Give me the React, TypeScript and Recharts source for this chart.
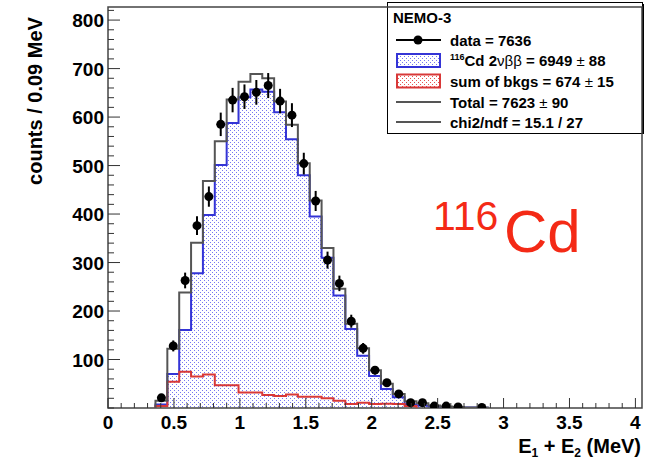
import React from 'react';
import { ComposedChart, Area, Line, Scatter, ErrorBar, XAxis, YAxis, ReferenceArea } from 'recharts';

// ---- histogram bins (lower edges, MeV), width 0.09 MeV ----
const binLowEdges = [0.36, 0.45, 0.54, 0.63, 0.72, 0.81, 0.9, 0.99, 1.08, 1.17, 1.26, 1.35, 1.44, 1.53, 1.62, 1.71, 1.8, 1.89, 1.98, 2.07, 2.16, 2.25, 2.34, 2.43, 2.52, 2.61, 2.7, 2.79, 2.88];
const cdCounts = [7, 70, 161, 278, 398, 501, 588, 641, 657, 652, 610, 554, 480, 395, 310, 232, 163, 108, 66, 39, 22, 7, 5, 3, 2, 1, 1, 0.5, 0];
const bkgCounts = [4, 54, 75, 65, 69, 47, 47, 32, 32, 27, 25, 28, 23, 23, 20, 15, 8, 11, 8, 9, 8, 4, 0];
const totalCounts = [15, 122, 238, 341, 468, 550, 636, 673, 689, 680, 632, 584, 505, 428, 330, 246, 174, 123, 78, 50, 29, 14, 10, 5, 3, 2, 1, 1, 0];

// ---- data points ----
const dataCenters = [0.405, 0.495, 0.585, 0.675, 0.765, 0.855, 0.945, 1.035, 1.125, 1.215, 1.305, 1.395, 1.485, 1.575, 1.665, 1.755, 1.845, 1.935, 2.025, 2.115, 2.205, 2.295, 2.385, 2.475, 2.565, 2.655, 2.835];
const dataCounts = [21, 128, 263, 376, 436, 585, 635, 642, 651, 665, 633, 604, 504, 427, 305, 257, 179, 123, 78, 52, 29, 11, 11, 4, 4, 2, 1];
const dataErrors = [4.6, 11.3, 16.2, 19.4, 20.9, 24.2, 25.2, 25.3, 25.5, 25.8, 25.2, 24.6, 22.4, 20.7, 17.5, 16, 13.4, 11.1, 8.8, 7.2, 5.4, 3.3, 3.3, 2, 2, 1.4, 1];

// ---- axis ticks ----
const xTicks = [0, 0.1, 0.2, 0.3, 0.4, 0.5, 0.6, 0.7, 0.8, 0.9, 1, 1.1, 1.2, 1.3, 1.4, 1.5, 1.6, 1.7, 1.8, 1.9, 2, 2.1, 2.2, 2.3, 2.4, 2.5, 2.6, 2.7, 2.8, 2.9, 3, 3.1, 3.2, 3.3, 3.4, 3.5, 3.6, 3.7, 3.8, 3.9, 4];
const xMajorTicks = [0, 0.5, 1, 1.5, 2, 2.5, 3, 3.5, 4];
const xMajorLabels = ['0', '0.5', '1', '1.5', '2', '2.5', '3', '3.5', '4'];
const yTicks = [0, 20, 40, 60, 80, 100, 120, 140, 160, 180, 200, 220, 240, 260, 280, 300, 320, 340, 360, 380, 400, 420, 440, 460, 480, 500, 520, 540, 560, 580, 600, 620, 640, 660, 680, 700, 720, 740, 760, 780, 800, 820];
const yMajorTicks = [100, 200, 300, 400, 500, 600, 700, 800];
const yMajorLabels = ['100', '200', '300', '400', '500', '600', '700', '800'];

const FONT = '"Liberation Sans", Arial, Helvetica, sans-serif';

const histRows = [
  { x: binLowEdges[0], cd: 0, bkg: 0, tot: 0 },
  ...binLowEdges.map((x, i) => ({
    x,
    cd: cdCounts[i] ?? null,
    bkg: bkgCounts[i] ?? null,
    tot: totalCounts[i] ?? null,
  })),
];

const pointRows = dataCenters.map((x, i) => ({ x, y: dataCounts[i], err: dataErrors[i] }));

const findMajor = (v: number, majors: number[]) => majors.findIndex((m) => Math.abs(m - v) < 1e-6);

const XTick = (props: any) => {
  const { x, y, payload } = props;
  const mi = findMajor(payload.value, xMajorTicks);
  const len = mi >= 0 ? 10 : 5;
  return (
    <g>
      <line x1={x} y1={y} x2={x} y2={y - len} stroke="#333" strokeWidth={1} />
      {mi >= 0 && (
        <text x={x} y={y + 21} textAnchor="middle" fontFamily={FONT} fontWeight="bold" fontSize={19} fill="#000">
          {xMajorLabels[mi]}
        </text>
      )}
    </g>
  );
};

const YTick = (props: any) => {
  const { x, y, payload } = props;
  const mi = findMajor(payload.value, yMajorTicks);
  const len = mi >= 0 ? 12 : 6;
  return (
    <g>
      <line x1={x} y1={y} x2={x + len} y2={y} stroke="#333" strokeWidth={1} />
      {mi >= 0 && (
        <text x={x - 4} y={y + 7} textAnchor="end" fontFamily={FONT} fontWeight="bold" fontSize={19} fill="#000">
          {yMajorLabels[mi]}
        </text>
      )}
    </g>
  );
};

const Dot = (props: any) => <circle cx={props.cx} cy={props.cy} r={4.5} fill="#000" />;

const LegendBox = () => (
  <g fontFamily={FONT} fontWeight="bold" fontSize={15} fill="#000">
    <rect x={387.5} y={2.5} width={255} height={131} fill="#fff" stroke="#000" strokeWidth={1} />
    <line x1={643} y1={4} x2={643} y2={134} stroke="#000" strokeWidth={2} />
    <text x={393} y={22.5}>NEMO-3</text>
    <line x1={396} y1={40} x2={441} y2={40} stroke="#000" strokeWidth={2} />
    <circle cx={418} cy={40} r={4.5} fill="#000" />
    <text x={450} y={45.5}>data = 7636</text>
    <rect x={397} y={54} width={43} height={13} fill="url(#bluedots)" stroke="#3434d6" strokeWidth={2} />
    <text x={450} y={66}>
      <tspan fontSize={9} dy={-6}>116</tspan>
      <tspan dy={6}>Cd 2</tspan>
      <tspan fontWeight="normal">νββ</tspan>
      <tspan> = 6949</tspan>
      <tspan fontWeight="normal"> ± </tspan>
      <tspan>88</tspan>
    </text>
    <rect x={397} y={74.5} width={43} height={13} fill="url(#reddots)" stroke="#d83838" strokeWidth={2} />
    <text x={450} y={86.5}>
      <tspan>sum of bkgs = 674</tspan>
      <tspan fontWeight="normal"> ± </tspan>
      <tspan>15</tspan>
    </text>
    <line x1={396} y1={102} x2={441} y2={102} stroke="#555" strokeWidth={2} />
    <text x={450} y={107.5}>
      <tspan>Total = 7623</tspan>
      <tspan fontWeight="normal"> ± </tspan>
      <tspan>90</tspan>
    </text>
    <line x1={396} y1={122} x2={441} y2={122} stroke="#555" strokeWidth={2} />
    <text x={450} y={127.5}>chi2/ndf = 15.1 / 27</text>
  </g>
);

const Titles = () => (
  <g fontFamily={FONT}>
    <text x={35} y={101} transform="rotate(-90 35 101)" textAnchor="middle" dominantBaseline="central" fontWeight="bold" fontSize={20} fill="#000">
      counts / 0.09 MeV
    </text>
    <text x={641} y={453} textAnchor="end" fontWeight="bold" fontSize={20} fill="#000">
      <tspan>E</tspan>
      <tspan fontSize={12} dy={4}>1</tspan>
      <tspan dy={-4}> + E</tspan>
      <tspan fontSize={12} dy={4}>2</tspan>
      <tspan dy={-4}> (MeV)</tspan>
    </text>
    <text x={433} y={230} fontSize={41} fill="#f42a16">116</text>
    <text x={504} y={252} fontSize={60} fill="#f42a16">Cd</text>
  </g>
);

export default function App() {
  return (
    <div style={{ position: 'absolute', left: 0, top: 0, width: 653, height: 459, background: '#fff' }}>
      <ComposedChart width={653} height={459} margin={{ top: 7, right: 11, bottom: 0, left: 0 }}>
        <defs>
          <pattern id="bluedots" width={4} height={4} patternUnits="userSpaceOnUse">
            <rect width={4} height={4} fill="#fff" />
            <rect x={0} y={0} width={1} height={1} fill="#7676f2" />
            <rect x={2} y={2} width={1} height={1} fill="#7676f2" />
          </pattern>
          <pattern id="reddots" width={4} height={4} patternUnits="userSpaceOnUse">
            <rect width={4} height={4} fill="#fff" />
            <rect x={0} y={0} width={1} height={1} fill="#e85050" />
            <rect x={2} y={2} width={1} height={1} fill="#e85050" />
          </pattern>
        </defs>
        <XAxis
          type="number"
          dataKey="x"
          domain={[0, 4.05]}
          allowDataOverflow
          ticks={xTicks}
          interval={0}
          tick={<XTick />}
          tickLine={false}
          tickSize={0}
          tickMargin={0}
          axisLine={false}
          height={51}
        />
        <YAxis
          type="number"
          domain={[0, 827]}
          allowDataOverflow
          ticks={yTicks}
          interval={0}
          tick={<YTick />}
          tickLine={false}
          tickSize={0}
          tickMargin={0}
          axisLine={false}
          width={108}
        />
        <Area
          data={histRows}
          dataKey="cd"
          type="stepAfter"
          fill="url(#bluedots)"
          fillOpacity={1}
          stroke="#3434d6"
          strokeWidth={2}
          isAnimationActive={false}
          dot={false}
          activeDot={false}
        />
        <Line
          data={histRows}
          dataKey="bkg"
          type="stepAfter"
          stroke="#d83838"
          strokeWidth={2}
          dot={false}
          activeDot={false}
          isAnimationActive={false}
        />
        <Line
          data={histRows}
          dataKey="tot"
          type="stepAfter"
          stroke="#555"
          strokeWidth={2}
          dot={false}
          activeDot={false}
          isAnimationActive={false}
        />
        <Scatter data={pointRows} dataKey="y" shape={Dot} isAnimationActive={false}>
          <ErrorBar dataKey="err" direction="y" width={0} stroke="#000" strokeWidth={2} />
        </Scatter>
        <ReferenceArea x1={0} x2={4.05} y1={0} y2={827} fill="none" stroke="#444" strokeWidth={1.5} ifOverflow="visible" />
        <Titles />
        <LegendBox />
      </ComposedChart>
    </div>
  );
}
